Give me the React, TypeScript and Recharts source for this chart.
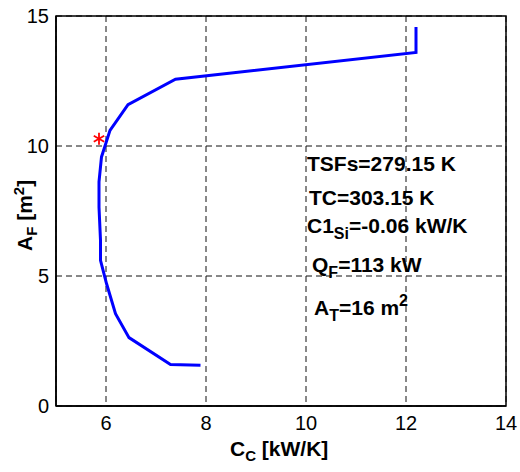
import { ComposedChart, Line, Scatter, XAxis, YAxis, CartesianGrid, ReferenceArea } from 'recharts'

// C_C [kW/K] vs A_F [m^2] along the curve
const ccValues = [12.2, 12.2, 7.39, 6.44, 6.08, 5.91, 5.86, 5.86, 5.89, 5.89, 6.01, 6.19, 6.46, 7.29, 7.89]
const afValues = [14.58, 13.6, 12.57, 11.59, 10.6, 9.58, 8.62, 7.65, 6.37, 5.6, 4.71, 3.55, 2.63, 1.6, 1.57]

// optimum point (red star)
const optimumCc = [5.86]
const optimumAf = [10.28]

const xTicks = [6, 8, 10, 12, 14]
const yTicks = [0, 5, 10, 15]

const curve = ccValues.map((cc, i) => ({ cc, af: afValues[i] }))
const optimum = optimumCc.map((cc, i) => ({ cc, af: optimumAf[i] }))

const font = '"Liberation Sans", Arial, Helvetica, sans-serif'

const Star = (props: any) => {
  const { cx, cy } = props
  const r = 6
  return (
    <g stroke="#ff0000" strokeWidth={1.8}>
      <line x1={cx} y1={cy - r} x2={cx} y2={cy + r} />
      <line x1={cx - r * 0.87} y1={cy - r * 0.5} x2={cx + r * 0.87} y2={cy + r * 0.5} />
      <line x1={cx - r * 0.87} y1={cy + r * 0.5} x2={cx + r * 0.87} y2={cy - r * 0.5} />
    </g>
  )
}

const XLabel = () => (
  <text x={230} y={456} fontFamily={font} fontWeight="bold" fontSize={21} fill="#000">
    <tspan>C</tspan>
    <tspan dy={5} fontSize={15}>C</tspan>
    <tspan dy={-5}> [kW/K]</tspan>
  </text>
)

const YLabel = () => (
  <text x={0} y={0} transform="translate(32,251) rotate(-90)" fontFamily={font} fontWeight="bold" fontSize={21} fill="#000">
    <tspan>A</tspan>
    <tspan dy={5} fontSize={15}>F</tspan>
    <tspan dy={-5}> [m</tspan>
    <tspan dy={-8} fontSize={15}>2</tspan>
    <tspan dy={8}>]</tspan>
  </text>
)

export default function App() {
  return (
    <div style={{ position: 'absolute', left: 0, top: 0, width: 520, height: 472, background: '#fff' }}>
      <ComposedChart width={520} height={472} margin={{ top: 16, right: 14, left: 0, bottom: 0 }}>
        <CartesianGrid stroke="#111" strokeDasharray="6 4" strokeWidth={1} />
        <XAxis
          type="number"
          dataKey="cc"
          domain={[5, 14]}
          ticks={xTicks}
          allowDataOverflow
          height={66}
          tickLine={false}
          tickSize={8}
          tickMargin={2}
          stroke="#000"
          strokeWidth={1.5}
          tick={{ fill: '#000', fontSize: 20, fontFamily: font }}
          label={<XLabel />}
        />
        <YAxis
          type="number"
          dataKey="af"
          domain={[0, 15]}
          ticks={yTicks}
          allowDataOverflow
          width={56}
          tickLine={false}
          tickSize={5}
          tickMargin={2}
          stroke="#000"
          strokeWidth={1.5}
          tick={{ fill: '#000', fontSize: 20, fontFamily: font }}
          label={<YLabel />}
        />
        <ReferenceArea x1={5} x2={14} y1={0} y2={15} fill="none" stroke="#000" strokeWidth={1.5} />
        <Line
          data={curve}
          dataKey="af"
          type="linear"
          stroke="#0000ff"
          strokeWidth={3}
          dot={false}
          isAnimationActive={false}
        />
        <Scatter data={optimum} dataKey="af" shape={<Star />} isAnimationActive={false} />
      </ComposedChart>
      <svg width={520} height={472} style={{ position: 'absolute', left: 0, top: 0, pointerEvents: 'none' }}>
        <g fontFamily={font} fontWeight="bold" fontSize={21} fill="#000">
          <text x={307} y={171}>TSFs=279.15 K</text>
          <text x={309} y={205}>TC=303.15 K</text>
          <text x={307} y={233}>
            <tspan>C1</tspan>
            <tspan dy={6} fontSize={16}>Si</tspan>
            <tspan dy={-6}>=-0.06 kW/K</tspan>
          </text>
          <text x={312} y={272}>
            <tspan>Q</tspan>
            <tspan dy={6} fontSize={16}>F</tspan>
            <tspan dy={-6}>=113 kW</tspan>
          </text>
          <text x={314} y={315}>
            <tspan>A</tspan>
            <tspan dy={6} fontSize={16}>T</tspan>
            <tspan dy={-6}>=16 m</tspan>
            <tspan dy={-9} fontSize={16}>2</tspan>
          </text>
        </g>
      </svg>
    </div>
  )
}
